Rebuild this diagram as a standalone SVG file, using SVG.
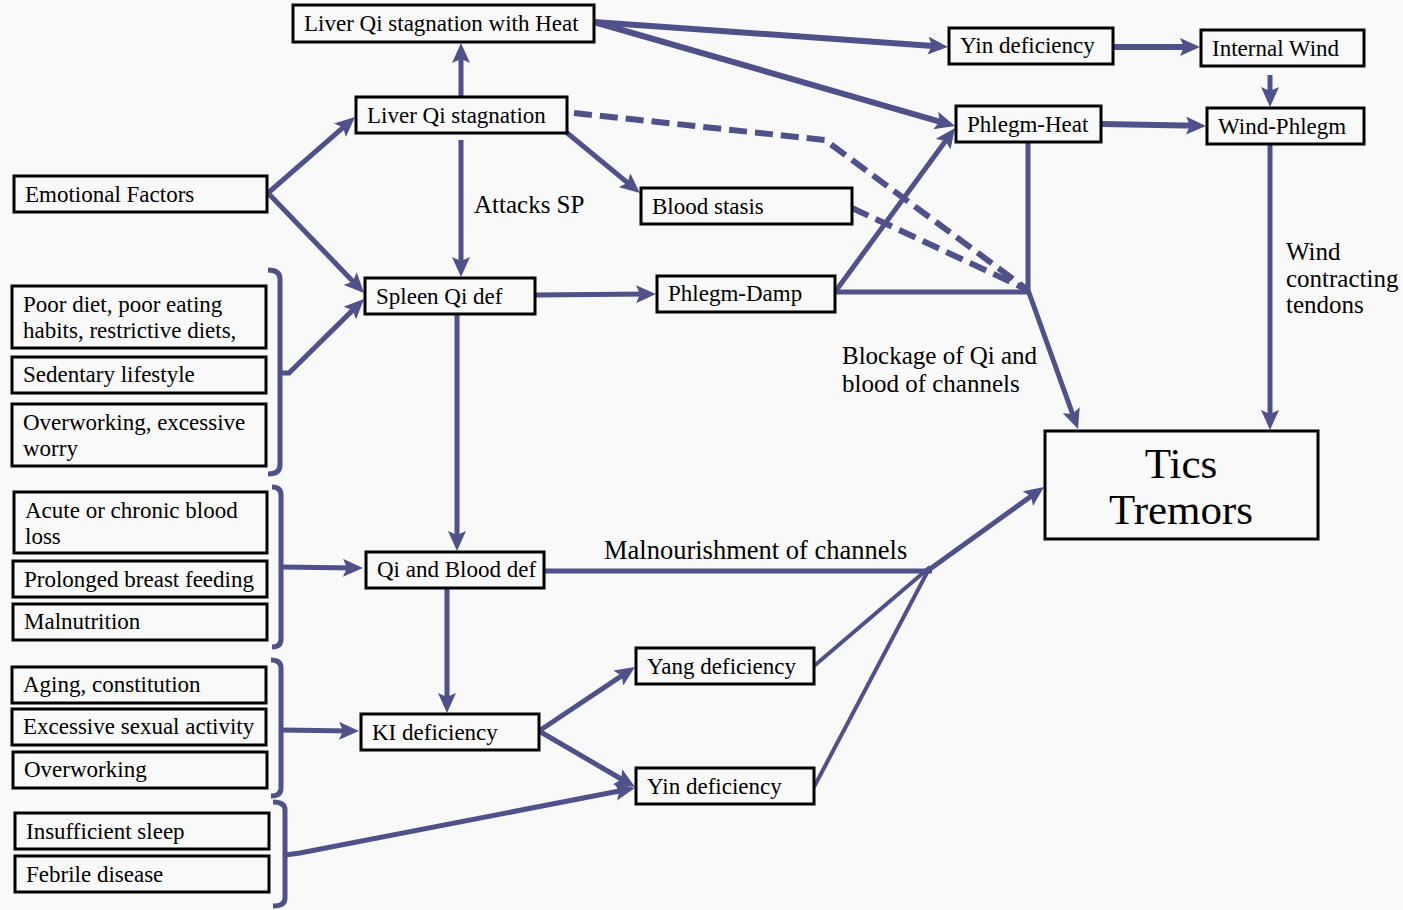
<svg xmlns="http://www.w3.org/2000/svg" width="1403" height="910" viewBox="0 0 1403 910">
<defs>
<marker id="arr" viewBox="0 0 20 18" refX="12" refY="9" markerWidth="20" markerHeight="18" markerUnits="userSpaceOnUse" orient="auto">
<path d="M0,0 L20,9 L0,18 L4,9 z" fill="#50518a"/>
</marker>
<style>
.box{fill:#f9f9f9;stroke:#000;stroke-width:3}
text{font-family:'Liberation Serif','DejaVu Serif','Noto Serif',serif;fill:#000}
.t{font-size:23px}
.lbl{font-size:25px}
.big{font-size:43px;text-anchor:middle}
.c{fill:none;stroke:#50518a;stroke-width:5}
.a{fill:none;stroke:#50518a;stroke-width:5;marker-end:url(#arr)}
.w{stroke-width:6}
.d{fill:none;stroke:#50518a;stroke-width:6;stroke-dasharray:18 8}
.br{fill:none;stroke:#50518a;stroke-width:5;stroke-linejoin:round}
</style>
</defs>
<rect width="1403" height="910" fill="#f9f9f9"/>

<g id="connectors">
<line class="a" x1="268" y1="193" x2="349" y2="122.3"/>
<line class="a" x1="268" y1="193" x2="358.5" y2="287.2"/>
<path class="a" d="M281,373 L289,373 L358.3,304.6"/>
<line class="a" x1="461" y1="97" x2="461" y2="51"/>
<line class="a" x1="461" y1="140" x2="461" y2="269"/>
<line class="a" x1="566" y1="132" x2="633.8" y2="187.9"/>
<line class="a w" x1="594" y1="22" x2="940" y2="46.4"/>
<line class="a w" x1="594" y1="22" x2="947.3" y2="123.8"/>
<line class="a w" x1="1113" y1="47" x2="1192" y2="47"/>
<line class="a" x1="1270" y1="75" x2="1270" y2="99"/>
<line class="a w" x1="1102" y1="124" x2="1198" y2="125.8"/>
<line class="a" x1="535" y1="295" x2="648" y2="294.1"/>
<line class="a" x1="835" y1="292" x2="950.3" y2="134.5"/>
<line class="c" x1="835" y1="292" x2="1030" y2="292"/>
<line class="c" x1="1028" y1="142" x2="1028" y2="292"/>
<line class="a" x1="1028" y1="290" x2="1075.3" y2="421.5"/>
<line class="a" x1="1270" y1="145" x2="1270" y2="422"/>
<path class="d" d="M574,113 L825,140 L1028,290"/>
<path class="d" d="M852,208 L1028,290"/>
<line class="a" x1="457" y1="314" x2="457" y2="543"/>
<line class="c" x1="544" y1="571" x2="932" y2="571"/>
<line class="a" x1="930" y1="569" x2="1037.5" y2="491.6"/>
<line class="c" x1="814" y1="666" x2="930" y2="567" style="stroke-width:4"/>
<line class="c" x1="814" y1="787" x2="930" y2="567" style="stroke-width:4"/>
<line class="a" x1="447" y1="588" x2="447" y2="705"/>
<line class="a" x1="539" y1="731" x2="628.3" y2="671.4"/>
<line class="a" x1="539" y1="731" x2="628.1" y2="783"/>
<line class="a" x1="281" y1="567" x2="355" y2="568"/>
<line class="a" x1="281" y1="730" x2="351" y2="731"/>
<path class="a" d="M285,855 L300,853 L627.1,789.5"/>
<path class="br" d="M268,270 Q280,270 280,279 L280,465 Q280,474 268,474"/>
<path class="br" d="M272,487 Q281,487 281,495 L281,639 Q281,647 272,647"/>
<path class="br" d="M271,660 Q281,660 281,668 L281,788 Q281,796 271,796"/>
<path class="br" d="M273,802 Q285,802 285,810 L285,898 Q285,906 273,906"/>
</g>

<g id="n-liver-heat"><rect class="box" x="293" y="5" width="301" height="37"/><text class="t" x="304" y="31">Liver Qi stagnation with Heat</text></g>
<g id="n-liver"><rect class="box" x="356" y="97" width="211" height="36"/><text class="t" x="367" y="123">Liver Qi stagnation</text></g>
<g id="n-emotional"><rect class="box" x="14" y="176" width="253" height="36"/><text class="t" x="25" y="202">Emotional Factors</text></g>
<g id="n-blood-stasis"><rect class="box" x="641" y="188" width="211" height="36"/><text class="t" x="652" y="214">Blood stasis</text></g>
<g id="n-spleen"><rect class="box" x="365" y="278" width="170" height="36"/><text class="t" x="376" y="304">Spleen Qi def</text></g>
<g id="n-phlegm-damp"><rect class="box" x="657" y="276" width="178" height="36"/><text class="t" x="668" y="301">Phlegm-Damp</text></g>
<g id="n-yin-top"><rect class="box" x="949" y="28" width="164" height="36"/><text class="t" x="960" y="53">Yin deficiency</text></g>
<g id="n-internal-wind"><rect class="box" x="1201" y="30" width="163" height="36"/><text class="t" x="1212" y="56">Internal Wind</text></g>
<g id="n-phlegm-heat"><rect class="box" x="956" y="106" width="145" height="36"/><text class="t" x="967" y="132">Phlegm-Heat</text></g>
<g id="n-wind-phlegm"><rect class="box" x="1207" y="108" width="157" height="36"/><text class="t" x="1218" y="134">Wind-Phlegm</text></g>
<g id="n-tics"><rect class="box" x="1045" y="431" width="273" height="108"/><text class="big" x="1181" y="478">Tics</text><text class="big" x="1181" y="524">Tremors</text></g>
<g id="n-poor-diet"><rect class="box" x="12" y="286" width="254" height="62"/><text class="t" x="23" y="312">Poor diet, poor eating</text><text class="t" x="23" y="338">habits, restrictive diets,</text></g>
<g id="n-sedentary"><rect class="box" x="12" y="357" width="254" height="36"/><text class="t" x="23" y="382">Sedentary lifestyle</text></g>
<g id="n-overworking-worry"><rect class="box" x="12" y="404" width="254" height="62"/><text class="t" x="23" y="430">Overworking, excessive</text><text class="t" x="23" y="456">worry</text></g>
<g id="n-blood-loss"><rect class="box" x="14" y="492" width="253" height="61"/><text class="t" x="25" y="518">Acute or chronic blood</text><text class="t" x="25" y="544">loss</text></g>
<g id="n-breast"><rect class="box" x="13" y="561" width="254" height="36"/><text class="t" x="24" y="587">Prolonged breast feeding</text></g>
<g id="n-malnutrition"><rect class="box" x="13" y="604" width="254" height="36"/><text class="t" x="24" y="629">Malnutrition</text></g>
<g id="n-qi-blood"><rect class="box" x="366" y="552" width="178" height="36"/><text class="t" x="377" y="577">Qi and Blood def</text></g>
<g id="n-aging"><rect class="box" x="12" y="667" width="254" height="36"/><text class="t" x="23" y="692">Aging, constitution</text></g>
<g id="n-sexual"><rect class="box" x="12" y="709" width="254" height="36"/><text class="t" x="23" y="734">Excessive sexual activity</text></g>
<g id="n-overworking"><rect class="box" x="13" y="752" width="254" height="36"/><text class="t" x="24" y="777">Overworking</text></g>
<g id="n-ki"><rect class="box" x="361" y="714" width="178" height="36"/><text class="t" x="372" y="740">KI deficiency</text></g>
<g id="n-yang"><rect class="box" x="636" y="648" width="178" height="36"/><text class="t" x="647" y="674">Yang deficiency</text></g>
<g id="n-yin-bottom"><rect class="box" x="636" y="768" width="178" height="36"/><text class="t" x="647" y="794">Yin deficiency</text></g>
<g id="n-sleep"><rect class="box" x="15" y="813" width="254" height="36"/><text class="t" x="26" y="839">Insufficient sleep</text></g>
<g id="n-febrile"><rect class="box" x="15" y="856" width="254" height="36"/><text class="t" x="26" y="882">Febrile disease</text></g>

<g id="labels">
<text class="lbl" x="474" y="213">Attacks SP</text>
<text class="lbl" x="842" y="364">Blockage of Qi and</text>
<text class="lbl" x="842" y="392">blood of channels</text>
<text class="lbl" x="1286" y="260">Wind</text>
<text class="lbl" x="1286" y="287">contracting</text>
<text class="lbl" x="1286" y="313">tendons</text>
<text class="lbl" x="604" y="559" style="font-size:26.5px">Malnourishment of channels</text>
</g>
</svg>
